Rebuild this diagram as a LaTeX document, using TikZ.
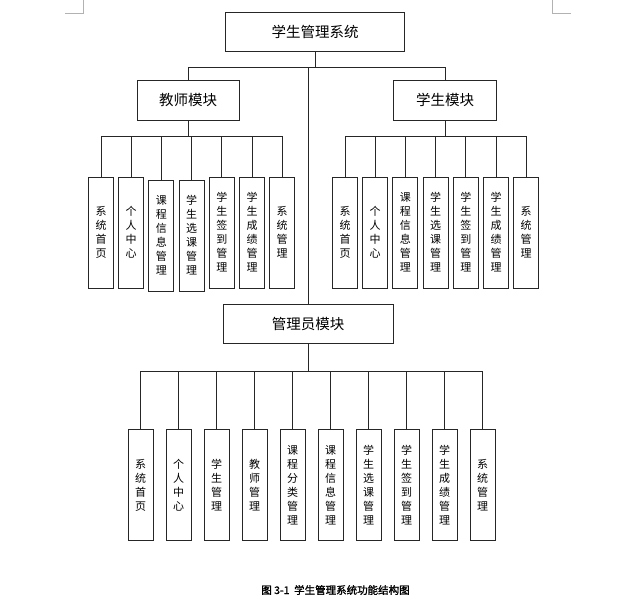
\documentclass[tikz,border=0pt]{standalone}
\usepackage{fontspec}
\setmainfont[AutoFakeBold=1.5]{Noto Sans CJK SC}
\usetikzlibrary{positioning}

\begin{document}
\begin{tikzpicture}[x=1pt,y=-1pt,node distance=4.3pt,
	box/.style={draw=black!85,line width=0.9pt,inner sep=0pt,font=\fontsize{14.5}{17}\selectfont},
	leaf/.style={draw=black!85,line width=0.9pt,inner sep=0pt,minimum width=25pt,minimum height=111pt,align=center,font=\fontsize{11}{14}\selectfont},
	link/.style={draw=black!85,line width=0.8pt},
	cornermark/.style={draw=black!30,line width=0.6pt}]
	
	\useasboundingbox (0,0) rectangle (618,611);
	
	% corner marks
	\draw[cornermark] (65,13) -- (83,13) -- (83,0);
	\draw[cornermark] (571,13) -- (552,13) -- (552,0);
	
	\node[box,minimum width=179pt,minimum height=39pt] (sys) at (315,32) {学生管理系统};
	\node[box,minimum width=102pt,minimum height=40pt] (tm) at (188,100) {教师模块};
	\node[box,minimum width=103pt,minimum height=40pt] (sm) at (445,100) {学生模块};
	\node[box,minimum width=170pt,minimum height=39pt] (am) at (308,323.5) {管理员模块};
	
	% teacher
	\node[leaf] (T1) at (101,232.5) {系\\统\\首\\页};
	\node[leaf] (T2) [right=of T1] {个\\人\\中\\心};
	\node[leaf] (T3) [right=of T2,yshift=-3pt] {课\\程\\信\\息\\管\\理};
	\node[leaf] (T4) [right=of T3] {学\\生\\选\\课\\管\\理};
	\node[leaf] (T5) [right=of T4,yshift=3pt] {学\\生\\签\\到\\管\\理};
	\node[leaf] (T6) [right=of T5] {学\\生\\成\\绩\\管\\理};
	\node[leaf] (T7) [right=of T6] {系\\统\\管\\理};
	
	% student
	\node[leaf] (S1) at (345,232.5) {系\\统\\首\\页};
	\node[leaf] (S2) [right=of S1] {个\\人\\中\\心};
	\node[leaf] (S3) [right=of S2] {课\\程\\信\\息\\管\\理};
	\node[leaf] (S4) [right=of S3] {学\\生\\选\\课\\管\\理};
	\node[leaf] (S5) [right=of S4] {学\\生\\签\\到\\管\\理};
	\node[leaf] (S6) [right=of S5] {学\\生\\成\\绩\\管\\理};
	\node[leaf] (S7) [right=of S6] {系\\统\\管\\理};
	
	% admin
	\begin{scope}[node distance=12.1pt]
	\node[leaf] (A1) at (140.5,485) {系\\统\\首\\页};
	\node[leaf] (A2) [right=of A1] {个\\人\\中\\心};
	\node[leaf] (A3) [right=of A2] {学\\生\\管\\理};
	\node[leaf] (A4) [right=of A3] {教\\师\\管\\理};
	\node[leaf] (A5) [right=of A4] {课\\程\\分\\类\\管\\理};
	\node[leaf] (A6) [right=of A5] {课\\程\\信\\息\\管\\理};
	\node[leaf] (A7) [right=of A6] {学\\生\\选\\课\\管\\理};
	\node[leaf] (A8) [right=of A7] {学\\生\\签\\到\\管\\理};
	\node[leaf] (A9) [right=of A8] {学\\生\\成\\绩\\管\\理};
	\node[leaf] (A10) [right=of A9] {系\\统\\管\\理};
	\end{scope}
	
	\coordinate (top) at (315,67);
	\coordinate (tbus) at (188,136);
	\coordinate (sbus) at (445,136);
	\coordinate (abus) at (308,371);
	
	\draw[link] (sys) -- (top);
	\draw[link] (top) -| (tm);
	\draw[link] (top) -| (sm);
	\draw[link] (am.north |- top) -- (am);
	
	\draw[link] (tm) -- (tbus);
	\foreach \n in {T1,T2,T3,T4,T5,T6,T7}
		\draw[link] (tbus) -| (\n.north);
	\draw[link] (sm) -- (sbus);
	\foreach \n in {S1,S2,S3,S4,S5,S6,S7}
		\draw[link] (sbus) -| (\n.north);
	\draw[link] (am) -- (abus);
	\foreach \n in {A1,A2,A3,A4,A5,A6,A7,A8,A9,A10}
		\draw[link] (abus) -| (\n.north);
	
	\node[font=\fontsize{10.5}{12}\selectfont\bfseries] (cap) at (335.5,590) {图~3-1~~学生管理系统功能结构图};
\end{tikzpicture}
\end{document}
